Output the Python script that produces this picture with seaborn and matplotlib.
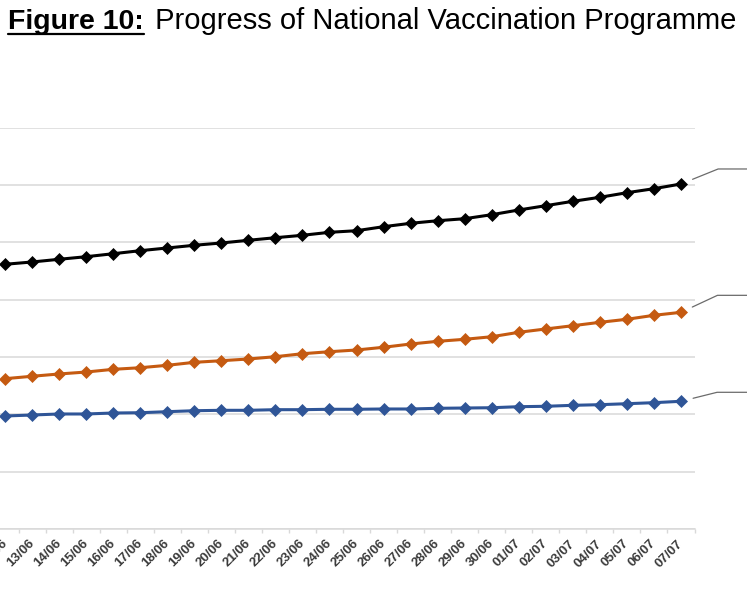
import numpy as np
import pandas as pd
import matplotlib
matplotlib.use("Agg")
import matplotlib.pyplot as plt
import seaborn as sns
from matplotlib.lines import Line2D

# data (cumulative doses)
dates = ["12/06", "13/06", "14/06", "15/06", "16/06", "17/06", "18/06", "19/06",
         "20/06", "21/06", "22/06", "23/06", "24/06", "25/06", "26/06", "27/06",
         "28/06", "29/06", "30/06", "01/07", "02/07", "03/07", "04/07", "05/07",
         "06/07", "07/07"]
total_doses = [461700, 465700, 470400, 474900, 480100, 485400, 490100, 494800,
               498800, 503500, 508000, 512200, 517400, 520200, 527200, 533100,
               537600, 541100, 548100, 556300, 563800, 571400, 578400, 586400,
               593400, 601600]
first_dose = [262400, 266600, 270600, 274000, 278700, 281500, 285700, 290900,
              293700, 296700, 300700, 305900, 309400, 312400, 317100, 322800,
              327500, 331000, 335500, 343200, 349000, 354700, 360600, 365900,
              372800, 378000]
second_dose = [197400, 199100, 200900, 200900, 202600, 203100, 204900, 206600,
               207300, 207300, 208400, 208400, 209100, 209100, 209600, 209600,
               210800, 211300, 211800, 213600, 214300, 216000, 217100, 218800,
               220600, 223000]

series = {"Total doses": total_doses, "First dose": first_dose, "Second dose": second_dose}
colors = {"Total doses": "#000000", "First dose": "#C55A11", "Second dose": "#2F5597"}
# callout elbow offsets (pixels up from last point) and leader angles
callouts = {"Total doses": (15, 22), "First dose": (17, 25), "Second dose": (9, 14)}

df = pd.DataFrame(series)
df["day"] = np.arange(len(dates))

sns.set_style("white")
plt.rcParams["font.family"] = ["Liberation Sans", "DejaVu Sans"]

fig = plt.figure(figsize=(7.47, 5.98), dpi=100)
ax = fig.add_axes([-8.5 / 747, (598 - 529.3) / 598, 703 / 747, (529.3 - 127.5) / 598])

for name, vals in series.items():
    sns.lineplot(data=df, x="day", y=name, ax=ax, color=colors[name],
                 linewidth=2.2, marker="D", markersize=6.5,
                 markeredgecolor=colors[name], markeredgewidth=0.5,
                 legend=False, zorder=3)
    dy, ang = callouts[name]
    ax.annotate("", xy=(df["day"].iloc[-1], vals[-1]), xytext=(110, dy),
                textcoords="offset pixels",
                arrowprops=dict(arrowstyle="-", color="#6b6b6b", lw=0.9,
                                shrinkA=0, shrinkB=9,
                                connectionstyle=f"angle,angleA=0,angleB={ang},rad=0"))

ax.set_xlim(-0.5, len(dates) - 0.5)
ax.set_ylim(0, 700000)
ax.set_yticks(np.arange(0, 700001, 100000))
ax.set_yticklabels([])
ax.yaxis.grid(True, color="#d9d9d9", linewidth=1.1)
ax.xaxis.grid(False)
ax.tick_params(axis="y", length=0)

ax.set_xticks(df["day"])
ax.set_xticklabels(dates, rotation=45, ha="right", va="center",
                   rotation_mode="anchor", fontsize=9.5, fontweight="bold",
                   color="#3a3a3a")
ax.set_xticks(np.arange(-0.5, len(dates), 1.0), minor=True)
ax.tick_params(axis="x", which="major", length=0, pad=9)
ax.tick_params(axis="x", which="minor", length=3, width=1, color="#d9d9d9",
               direction="out", bottom=True)
ax.set_xlabel("")
ax.set_ylabel("")

for s in ["left", "right", "top"]:
    ax.spines[s].set_visible(False)
ax.spines["bottom"].set_color("#d9d9d9")
ax.spines["bottom"].set_linewidth(1.1)

# title with bold underlined prefix
ty = 1 - 29 / 598
t1 = fig.text(8 / 747, ty, "Figure 10:", fontsize=20.5, fontweight="bold",
              va="baseline", ha="left", color="black")
fig.canvas.draw()
bb = t1.get_window_extent(renderer=fig.canvas.get_renderer())
fig.text((bb.x1 + 3) / 747, ty, " Progress of National Vaccination Programme",
         fontsize=21, va="baseline", ha="left", color="black")
fig.add_artist(Line2D([bb.x0 / 747, bb.x1 / 747], [1 - 33.5 / 598, 1 - 33.5 / 598],
                      transform=fig.transFigure, color="black", linewidth=1.6))

fig.savefig("out.png", dpi=100)
